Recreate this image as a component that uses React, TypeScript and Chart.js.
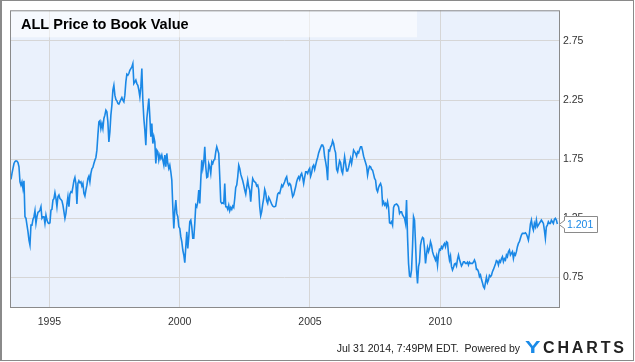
import React, { useEffect, useRef } from 'react';
import { Chart, registerables } from 'chart.js';

Chart.register(...registerables);

// ---------- data ----------
const chartTitle = 'ALL Price to Book Value';
const xTickYears = [1995, 2000, 2005, 2010];
const yTickValues = [0.75, 1.25, 1.75, 2.25, 2.75];
const firstDate = 1993.526; // decimal year of first observation
const stepDays = 14; // bi-weekly observations
const footerText = 'Jul 31 2014, 7:49PM EDT.  Powered by';
const brandText = 'YCHARTS';

const pbValues1993to2001 = [
  1.578, 1.629, 1.671, 1.713, 1.730, 1.736, 1.733, 1.720, 1.685, 1.558,
  1.530, 1.558, 1.502, 1.567, 1.263, 1.249, 1.192, 1.136, 1.065, 1.023,
  1.192, 1.192, 1.240, 1.263, 1.313, 1.206, 1.263, 1.300, 1.305, 1.319,
  1.347, 1.249, 1.263, 1.263, 1.206, 1.277, 1.234, 1.212, 1.206, 1.212,
  1.319, 1.325, 1.403, 1.415, 1.465, 1.417, 1.347, 1.432, 1.446, 1.417,
  1.409, 1.398, 1.361, 1.305, 1.249, 1.291, 1.370, 1.432, 1.347, 1.454,
  1.474, 1.468, 1.516, 1.567, 1.595, 1.544, 1.370, 1.544, 1.567, 1.550,
  1.558, 1.522, 1.544, 1.460, 1.437, 1.488, 1.530, 1.586, 1.606, 1.558,
  1.629, 1.668, 1.680, 1.713, 1.741, 1.764, 1.826, 1.953, 2.065, 2.074,
  2.009, 2.051, 2.009, 2.094, 2.122, 2.164, 2.150, 2.065, 1.896, 1.981,
  2.122, 2.206, 2.333, 2.375, 2.291, 2.254, 2.243, 2.220, 2.215, 2.234,
  2.254, 2.271, 2.248, 2.234, 2.291, 2.403, 2.468, 2.460, 2.474, 2.502,
  2.516, 2.530, 2.558, 2.389, 2.403, 2.418, 2.389, 2.375, 2.333, 2.277,
  2.361, 2.516, 2.248, 2.094, 1.995, 1.868, 2.094, 2.178, 2.263, 2.108,
  1.939, 2.051, 1.882, 1.939, 1.896, 1.713, 1.826, 1.812, 1.741, 1.784,
  1.756, 1.784, 1.741, 1.699, 1.784, 1.685, 1.798, 1.713, 1.671, 1.699,
  1.643, 1.572, 1.347, 1.164, 1.319, 1.403, 1.291, 1.263, 1.178, 1.164,
  1.094, 1.051, 0.981, 0.939, 0.874, 1.009, 1.136, 0.995, 1.094, 1.220,
  1.234, 1.178, 1.080, 1.080, 1.206, 1.361, 1.347, 1.389, 1.488, 1.375,
  1.572, 1.741, 1.671, 1.727, 1.854, 1.685, 1.595, 1.601, 1.713, 1.685,
  1.629, 1.727, 1.713, 1.741, 1.747, 1.812, 1.854, 1.826,
];

const pbValues2001to2008 = [
  1.798, 1.601, 1.389, 1.375, 1.381, 1.375, 1.544, 1.347, 1.347, 1.325,
  1.361, 1.313, 1.341, 1.325, 1.353, 1.341, 1.417, 1.510, 1.530, 1.601,
  1.699, 1.671, 1.623, 1.595, 1.567, 1.530, 1.488, 1.454, 1.516, 1.572,
  1.516, 1.488, 1.389, 1.502, 1.586, 1.567, 1.558, 1.550, 1.522, 1.530,
  1.494, 1.347, 1.271, 1.305, 1.370, 1.417, 1.494, 1.465, 1.398, 1.375,
  1.426, 1.409, 1.389, 1.370, 1.353, 1.347, 1.347, 1.353, 1.403, 1.454,
  1.465, 1.460, 1.494, 1.530, 1.516, 1.539, 1.558, 1.586, 1.601, 1.550,
  1.530, 1.544, 1.530, 1.482, 1.432, 1.446, 1.482, 1.516, 1.558, 1.586,
  1.601, 1.578, 1.615, 1.629, 1.595, 1.544, 1.595, 1.643, 1.643, 1.629,
  1.657, 1.671, 1.606, 1.635, 1.685, 1.699, 1.663, 1.699, 1.736, 1.764,
  1.803, 1.826, 1.848, 1.868, 1.868, 1.848, 1.770, 1.727, 1.671, 1.572,
  1.826, 1.820, 1.854, 1.868, 1.905, 1.882, 1.832, 1.803, 1.663, 1.643,
  1.690, 1.736, 1.720, 1.651, 1.629, 1.699, 1.770, 1.713, 1.651, 1.651,
  1.680, 1.720, 1.756, 1.713, 1.764, 1.826, 1.812, 1.798, 1.775, 1.812,
  1.803, 1.832, 1.854, 1.854, 1.820, 1.775, 1.747, 1.720, 1.690, 1.615,
  1.663, 1.690, 1.685, 1.663, 1.657, 1.623, 1.586, 1.572, 1.494, 1.474,
  1.510, 1.530, 1.544, 1.516, 1.370, 1.389, 1.361, 1.375, 1.347, 1.389,
  1.341, 1.212, 1.206, 1.220, 1.192, 1.341, 1.361, 1.367, 1.370, 1.361,
  1.347,
];

const pbValues2008to2014 = [
  1.291, 1.305, 1.305, 1.277, 1.263, 1.249, 1.206, 1.403, 1.094, 0.868,
  0.761, 0.756, 0.812, 1.009, 1.263, 1.234, 1.037, 0.812, 0.699, 0.840,
  0.879, 1.023, 1.065, 1.088, 1.080, 0.995, 0.868, 0.946, 1.003, 0.967,
  0.995, 1.051, 1.023, 0.967, 0.939, 0.919, 0.896, 0.930, 0.854, 0.946,
  0.987, 0.981, 1.009, 0.995, 1.023, 1.037, 1.009, 1.051, 1.043, 0.953,
  0.896, 0.930, 0.840, 0.812, 0.834, 0.862, 0.868, 0.846, 0.902, 0.939,
  0.902, 0.874, 0.846, 0.862, 0.882, 0.882, 0.868, 0.868, 0.879, 0.854,
  0.879, 0.868, 0.868, 0.868, 0.879, 0.896, 0.874, 0.817, 0.817, 0.798,
  0.756, 0.770, 0.733, 0.705, 0.671, 0.657, 0.705, 0.750, 0.705, 0.727,
  0.767, 0.756, 0.767, 0.798, 0.817, 0.840, 0.862, 0.891, 0.885, 0.854,
  0.891, 0.879, 0.907, 0.924, 0.882, 0.907, 0.896, 0.939, 0.924, 0.967,
  0.981, 0.939, 0.953, 0.967, 0.910, 0.953, 0.939, 0.967, 1.009, 1.037,
  1.051, 1.080, 1.108, 1.122, 1.122, 1.122, 1.127, 1.116, 1.094, 1.065,
  1.122, 1.201, 1.234, 1.178, 1.150, 1.206, 1.178, 1.234, 1.178, 1.192,
  1.206, 1.220, 1.234, 1.220, 1.206, 1.150, 1.080, 1.178, 1.192, 1.220,
  1.206, 1.206, 1.234, 1.220, 1.206, 1.240, 1.249, 1.234, 1.201,
];

const pbValues = [...pbValues1993to2001, ...pbValues2001to2008, ...pbValues2008to2014];

// ---------- styling ----------
const FONT = '"Liberation Sans", Arial, Helvetica, sans-serif';
const LINE_BLUE = '#1a88e6';
const PLOT_BG = '#eaf1fc';
const GRID = '#d6d6d6';
const FRAME = '#8a8a8a';

export default function App() {
  const ref = useRef<HTMLCanvasElement>(null);

  useEffect(() => {
    const canvas = ref.current;
    if (!canvas) return;
    const data = pbValues.map((v, i) => ({ x: firstDate + (i * stepDays) / 365.25, y: v }));
    const lastValue = pbValues[pbValues.length - 1];

    const decor = {
      id: 'decor',
      beforeDraw(chart: any) {
        const { ctx, chartArea: a, width, height } = chart;
        ctx.save();
        ctx.fillStyle = '#ffffff';
        ctx.fillRect(0, 0, width, height);
        ctx.fillStyle = PLOT_BG;
        ctx.fillRect(a.left, a.top, a.right - a.left, a.bottom - a.top);
        ctx.restore();
      },
      beforeDatasetsDraw(chart: any) {
        const { ctx, chartArea: a } = chart;
        ctx.save();
        ctx.fillStyle = 'rgba(255,255,255,0.55)';
        ctx.fillRect(a.left, a.top, 407, 27);
        ctx.fillStyle = '#000';
        ctx.font = `bold 14.5px ${FONT}`;
        ctx.textBaseline = 'alphabetic';
        ctx.textAlign = 'left';
        ctx.fillText(chartTitle, a.left + 11, a.top + 19);
        ctx.restore();
      },
      afterDraw(chart: any) {
        const { ctx, chartArea: a } = chart;
        ctx.save();
        // plot frame
        ctx.strokeStyle = FRAME;
        ctx.lineWidth = 1;
        ctx.strokeRect(a.left + 0.5, a.top + 0.5, a.right - a.left, a.bottom - a.top);
        // outer frame
        ctx.strokeRect(0.5, 0.5, 633, 360);
        ctx.fillStyle = FRAME;
        ctx.fillRect(1, 0, 1, 361);

        // last value flag
        const yv = Math.round(chart.scales.y.getPixelForValue(lastValue)) + 0.5;
        const bx0 = a.right + 5.5;
        const bx1 = 597.5;
        ctx.beginPath();
        ctx.moveTo(bx0, yv - 8);
        ctx.lineTo(bx1, yv - 8);
        ctx.lineTo(bx1, yv + 8);
        ctx.lineTo(bx0, yv + 8);
        ctx.lineTo(bx0, yv + 4);
        ctx.lineTo(a.right, yv);
        ctx.lineTo(bx0, yv - 4);
        ctx.closePath();
        ctx.fillStyle = '#ffffff';
        ctx.fill();
        ctx.strokeStyle = FRAME;
        ctx.stroke();
        ctx.fillStyle = LINE_BLUE;
        ctx.font = `10.5px ${FONT}`;
        ctx.textBaseline = 'middle';
        ctx.textAlign = 'left';
        ctx.fillText(lastValue.toFixed(3), bx0 + 2.5, yv + 0.5);

        // footer
        ctx.textBaseline = 'alphabetic';
        ctx.textAlign = 'right';
        ctx.fillStyle = '#222';
        ctx.font = `10.5px ${FONT}`;
        ctx.fillText(footerText, 520, 352);

        // brand logo: widened "Y" followed by spaced "CHARTS"
        ctx.textAlign = 'left';
        ctx.font = `bold 16px ${FONT}`;
        const first = brandText[0];
        const rest = brandText.slice(1).split('');
        ctx.save();
        ctx.translate(525, 353);
        ctx.scale(1.45, 1);
        ctx.fillStyle = '#1a8be8';
        ctx.fillText(first, 0, 0);
        ctx.restore();
        const widths = rest.map((c) => ctx.measureText(c).width);
        const total = widths.reduce((s, w) => s + w, 0);
        const restLeft = 543;
        const restRight = 624;
        const gap = (restRight - restLeft - total) / (rest.length - 1);
        let bx = restLeft;
        ctx.fillStyle = '#222';
        rest.forEach((c, i) => {
          ctx.fillText(c, bx, 353);
          bx += widths[i] + gap;
        });
        ctx.restore();
      },
    };

    const tickFont = { family: FONT, size: 10.5 };

    const chart = new Chart(canvas, {
      type: 'line',
      data: {
        datasets: [
          {
            data,
            borderColor: LINE_BLUE,
            borderWidth: 1.6,
            pointRadius: 0,
            tension: 0,
            fill: false,
          },
        ],
      },
      options: {
        animation: false,
        responsive: false,
        devicePixelRatio: 1,
        layout: { padding: { left: 10, top: 10, right: 0, bottom: 0 } },
        plugins: {
          legend: { display: false },
          tooltip: { enabled: false },
          title: { display: false },
        },
        scales: {
          x: {
            type: 'linear',
            min: 1993.488,
            max: 2014.555,
            grid: { color: GRID, lineWidth: 1, drawTicks: false },
            border: { display: false },
            afterBuildTicks: (s: any) => {
              s.ticks = xTickYears.map((v) => ({ value: v }));
            },
            afterFit: (s: any) => {
              s.height = 55;
            },
            ticks: {
              padding: 9,
              color: '#333',
              font: tickFont,
              maxRotation: 0,
              autoSkip: false,
              callback: (v: any) => String(v),
            },
          },
          y: {
            type: 'linear',
            position: 'right',
            min: 0.499,
            max: 3.009,
            grid: { color: GRID, lineWidth: 1, drawTicks: false },
            border: { display: false },
            afterBuildTicks: (s: any) => {
              s.ticks = yTickValues.map((v) => ({ value: v }));
            },
            afterFit: (s: any) => {
              s.width = 76;
            },
            ticks: {
              padding: 4,
              color: '#333',
              font: tickFont,
              autoSkip: false,
              callback: (v: any) => Number(v).toFixed(2),
            },
          },
        },
      },
      plugins: [decor],
    } as any);

    return () => chart.destroy();
  }, []);

  return (
    <div style={{ position: 'absolute', left: 0, top: 0, width: 635, height: 362 }}>
      <canvas ref={ref} width={635} height={362} style={{ display: 'block', width: 635, height: 362 }} />
    </div>
  );
}
